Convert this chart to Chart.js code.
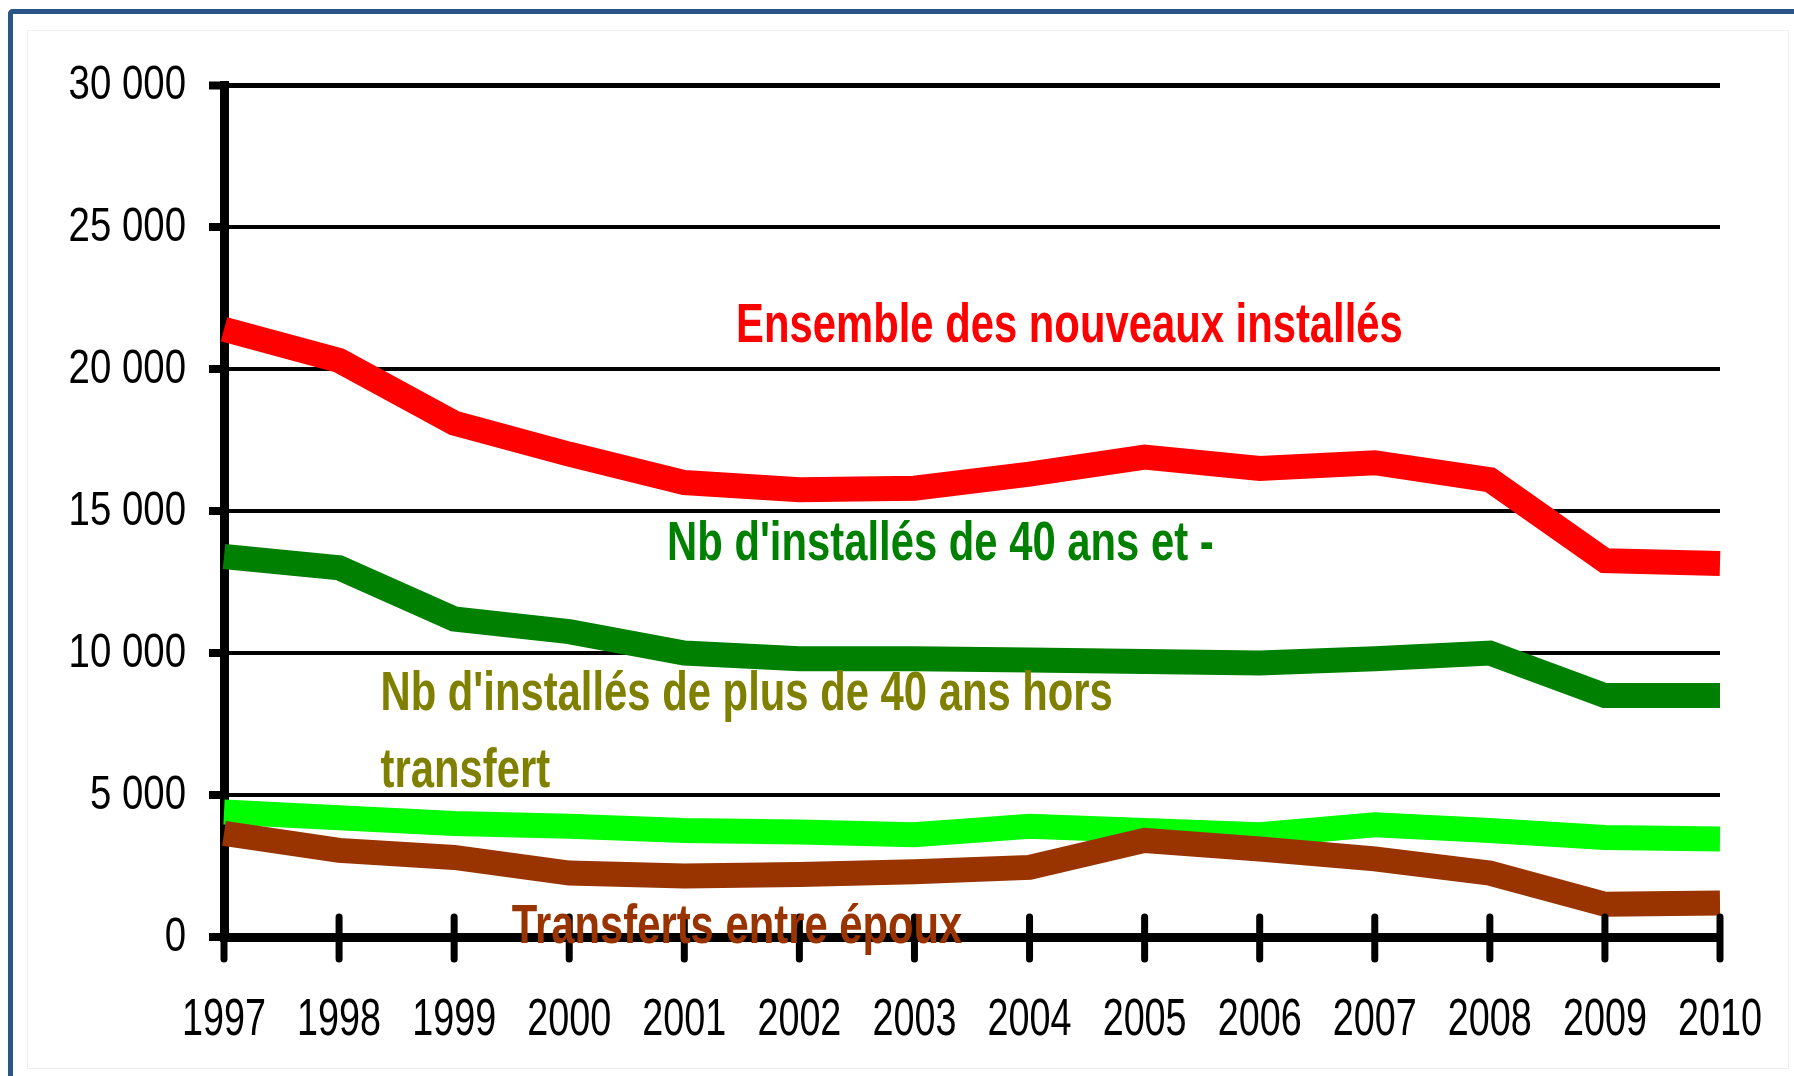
<!DOCTYPE html>
<html>
<head>
<meta charset="utf-8">
<script src="https://cdn.jsdelivr.net/npm/chart.js@4.4.1/dist/chart.umd.min.js"></script>
<style>
  html, body { margin: 0; padding: 0; background: #fff; overflow: hidden; }
  #wrap { position: relative; width: 1794px; height: 1076px; }
  #frame { position: absolute; left: 8px; top: 9px; width: 1900px; height: 1200px;
           border-left: 5px solid #2b5487; border-top: 5px solid #2b5487; border-top-left-radius: 5px; }
  #panel { position: absolute; left: 27px; top: 30px; width: 1760px; height: 1037px; border: 1px solid #f0f0f0; }
  #chart { position: absolute; left: 0; top: 0; }
</style>
</head>
<body>
<div id="wrap">
  <div id="frame"></div>
  <div id="panel"></div>
  <canvas id="chart" width="1794" height="1076"></canvas>
</div>
<script>
const years = ['1997', '1998', '1999', '2000', '2001', '2002', '2003', '2004', '2005', '2006', '2007', '2008', '2009', '2010'];
const ensemble = [21400, 20300, 18100, 17000, 16000, 15750, 15800, 16300, 16900, 16500, 16700, 16100, 13250, 13150];
const moins40 = [13400, 13000, 11200, 10750, 10000, 9800, 9800, 9750, 9700, 9650, 9800, 10000, 8500, 8500];
const plus40 = [4400, 4200, 4000, 3900, 3750, 3700, 3600, 3900, 3750, 3600, 3950, 3750, 3500, 3450];
const transferts = [3650, 3050, 2800, 2250, 2150, 2200, 2300, 2450, 3400, 3100, 2750, 2250, 1150, 1200];

// no narrow font installed: Liberation Sans squeezed horizontally instead
const FAMILY = "'Liberation Sans', Arial, sans-serif";

// series labels written inside the plot (x = category index, y = value at baseline)
const notes = [
  { lines: ['Ensemble des nouveaux installés'], x: 4.45, y: 20950, color: '#ff0000' },
  { lines: ["Nb d'installés de 40 ans et -"], x: 3.85, y: 13275, color: '#008000' },
  { lines: ["Nb d'installés de plus de 40 ans hors", 'transfert'], x: 1.36, y: 8000, color: '#808000' },
  { lines: ['Transferts entre époux'], x: 2.5, y: -200, color: '#993300' }
];

function fmt(v) {
  return String(v).replace(/\B(?=(\d{3})+(?!\d))/g, ' ');
}

function squeezed(ctx, text, x, y, sx, align) {
  ctx.save();
  ctx.translate(x, y);
  ctx.scale(sx, 1);
  ctx.textAlign = align;
  ctx.textBaseline = 'alphabetic';
  ctx.fillText(text, 0, 0);
  ctx.restore();
}

// x tick marks cross the axis line
const xTickMarks = {
  id: 'xTickMarks',
  afterDatasetsDraw(chart) {
    const { ctx, chartArea } = chart;
    const x = chart.scales.x;
    ctx.save();
    ctx.strokeStyle = '#000';
    ctx.lineWidth = 7;
    ctx.lineCap = 'round';
    x.ticks.forEach((t, i) => {
      const px = x.getPixelForTick(i);
      ctx.beginPath();
      ctx.moveTo(px, chartArea.bottom - 20);
      ctx.lineTo(px, chartArea.bottom + 22);
      ctx.stroke();
    });
    ctx.restore();
  }
};

// tick labels and notes, drawn narrow like the original
const narrowText = {
  id: 'narrowText',
  afterDraw(chart) {
    const { ctx, chartArea } = chart;
    const x = chart.scales.x, y = chart.scales.y;
    ctx.save();
    ctx.fillStyle = '#000';
    ctx.font = '48px ' + FAMILY;
    y.ticks.forEach((t, i) => {
      squeezed(ctx, t.label, chartArea.left - 38, y.getPixelForTick(i) + 14, 0.8, 'right');
    });
    ctx.font = '51px ' + FAMILY;
    x.ticks.forEach((t, i) => {
      squeezed(ctx, t.label, x.getPixelForTick(i), chartArea.bottom + 98, 0.74, 'center');
    });
    ctx.font = 'bold 55px ' + FAMILY;
    notes.forEach(n => {
      const px = x.getPixelForValue(n.x);
      let py = y.getPixelForValue(n.y);
      ctx.fillStyle = n.color;
      n.lines.forEach(line => {
        squeezed(ctx, line, px, py, 0.76, 'left');
        py += 77;
      });
    });
    ctx.restore();
  }
};

const line = (data, color, order) => ({
  data, borderColor: color, backgroundColor: color, borderWidth: 25,
  pointRadius: 0, tension: 0, borderCapStyle: 'butt', borderJoinStyle: 'miter', order
});

const hidden = { family: FAMILY, size: 1 };

new Chart(document.getElementById('chart'), {
  type: 'line',
  data: {
    labels: years,
    datasets: [
      line(ensemble, '#ff0000', 3),
      line(moins40, '#008000', 2),
      line(plus40, '#00ff00', 1),
      line(transferts, '#993300', 0)
    ]
  },
  options: {
    responsive: false,
    animation: false,
    layout: { padding: { top: 85, right: 74, left: 0, bottom: 0 } },
    plugins: { legend: { display: false }, tooltip: { enabled: false } },
    scales: {
      x: {
        grid: { display: false, drawTicks: false },
        border: { display: true, color: '#000', width: 9 },
        ticks: { color: 'rgba(0,0,0,0)', maxRotation: 0, autoSkip: false, font: hidden },
        afterFit: s => { s.height = 139; }
      },
      y: {
        min: 0, max: 30000,
        grid: {
          color: '#000',
          lineWidth: c => (c.tick && c.tick.value === 30000 ? 5 : 4),
          tickColor: '#000', tickWidth: 8, tickLength: 15
        },
        border: { display: true, color: '#000', width: 9 },
        ticks: { stepSize: 5000, color: 'rgba(0,0,0,0)', callback: v => fmt(v), font: hidden },
        afterFit: s => { s.width = 224; }
      }
    }
  },
  plugins: [xTickMarks, narrowText]
});
</script>
</body>
</html>
